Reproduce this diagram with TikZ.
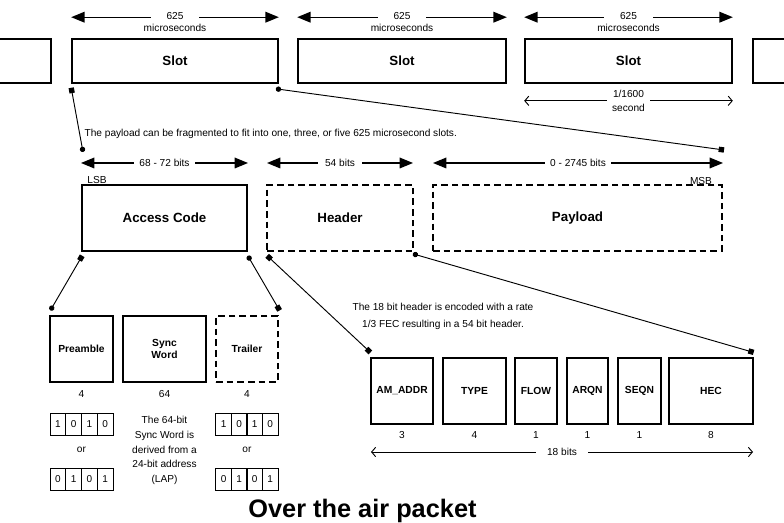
\documentclass[tikz,border=0pt]{standalone}
\usepackage{fontspec}
\setmainfont{Liberation Sans}
\usetikzlibrary{arrows.meta,calc}
\newcommand\rbox[7]{\node[#6, minimum width={(#4-#2)*0.75pt}, minimum height={(#5-#3)*0.75pt}] (#1) at ({(#2+#4)/2},{(#3+#5)/2}) {#7};}
\begin{document}
\begin{tikzpicture}[x=0.75pt,y=-0.75pt,
 box/.style={draw, line width=1.2pt, inner sep=0pt, font=\bfseries\fontsize{10}{12}\selectfont},
 dbox/.style={box, dash pattern=on 5pt off 3pt},
 fbox/.style={draw, line width=0.9pt, inner sep=0pt, align=center, font=\bfseries\fontsize{7.7}{9.5}\selectfont},
 dfbox/.style={fbox, dash pattern=on 5pt off 3pt},
 cell/.style={draw, line width=0.7pt, inner sep=0pt, minimum width={15.75*0.75pt}, minimum height={22*0.75pt}, font=\fontsize{7.5}{9}\selectfont},
 small/.style={font=\fontsize{7.6}{9}\selectfont, inner sep=1pt},
 gap/.style={small, fill=white},
 dimbig/.style={line width=0.9pt, {Triangle[length=10pt,width=8pt]}-{Triangle[length=10pt,width=8pt]}},
 dimopen/.style={line width=0.7pt, {Straight Barb[length=3pt,width=7pt]}-{Straight Barb[length=3pt,width=7pt]}},
 link/.style={line width=0.7pt},
 sqci/.style={link, {Square[length=4pt,width=4pt]}-{Circle[length=4pt]}},
 cisq/.style={link, {Circle[length=4pt]}-{Square[length=4pt,width=4pt]}},
 sqsq/.style={link, {Square[length=4pt,width=4pt]}-{Square[length=4pt,width=4pt]}},
]
\useasboundingbox (0,0) rectangle (784,523);
\clip (0,0) rectangle (784,523);

% slots
\rbox{slotL}{-20}{39}{51}{83}{box}{}
\rbox{slotA}{72}{39}{278}{83}{box}{Slot}
\rbox{slotB}{298}{39}{506}{83}{box}{Slot}
\rbox{slotC}{525}{39}{732}{83}{box}{Slot}
\rbox{slotR}{753}{39}{830}{83}{box}{}

\foreach \s in {slotA,slotB,slotC}{
  \draw[dimbig] ($(\s.north west)+(0,-21)$) -- ($(\s.north east)+(0,-21)$);
  \node[gap, inner xsep=12pt] (\s-t) at ($(\s.north)+(0,-22)$) {625};
  \node[small] (\s-m) at ($(\s.north)+(0,-10)$) {microseconds};
}
\draw[dimopen] ($(slotC.south west)+(0,17)$) -- ($(slotC.south east)+(0,17)$);
\node[gap, align=center, inner xsep=4pt, inner ysep=0pt] (sec) at ($(slotC.south)+(0,17)$) {1/1600\\[1pt]second};

\node[small, anchor=west] (frag) at (83,134) {The payload can be fragmented to fit into one, three, or five 625 microsecond slots.};

% packet
\rbox{ac}{82}{185}{247}{251}{box}{Access Code}
\rbox{hd}{267}{185}{413}{251}{dbox}{Header}
\rbox{pl}{433}{185}{722}{251}{dbox}{Payload}
\node[small] (lsb) at (97,180) {LSB};
\node[small] (msb) at (701,181) {MSB};

\draw[dimbig] (81,163) -- (248,163);
\node[gap, inner xsep=4pt] (acb) at (164.5,163) {68 - 72 bits};
\draw[dimbig] (267,163) -- (413,163);
\node[gap, inner xsep=5pt] (hdb) at (340,163) {54 bits};
\draw[dimbig] (433,163) -- (723,163);
\node[gap, inner xsep=4pt] (plb) at (578,163) {0 - 2745 bits};

% access code parts
\rbox{pre}{50}{316}{113}{382}{fbox}{Preamble}
\rbox{sync}{123}{316}{206}{382}{fbox}{Sync\\Word}
\rbox{trl}{216}{316}{278}{382}{dfbox}{Trailer}
\node[small] (npre) at (81.5,394) {4};
\node[small] (nsync) at (164.5,394) {64};
\node[small] (ntrl) at (247,394) {4};

\foreach \b [count=\i] in {1,0,1,0} \node[cell] (pa\i) at ({50+(\i-0.5)*15.75},424.5) {\b};
\foreach \b [count=\i] in {0,1,0,1} \node[cell] (pb\i) at ({50+(\i-0.5)*15.75},479) {\b};
\foreach \b [count=\i] in {1,0,1,0} \node[cell] (ta\i) at ({216+(\i-0.5)*15.5},424.5) {\b};
\foreach \b [count=\i] in {0,1,0,1} \node[cell] (tb\i) at ({216+(\i-0.5)*15.5},479) {\b};
\node[small] (or1) at (81.5,450) {or};
\node[small] (or2) at (247,450) {or};
\node[small, align=center, font=\fontsize{7.6}{11}\selectfont] (syncnote) at (164.5,450.5) {The 64-bit\\Sync Word is\\derived from a\\24-bit address\\(LAP)};

% header fields
\node[small, align=center, font=\fontsize{7.6}{12.7}\selectfont] (hnote) at (443,316) {The 18 bit header is encoded with a rate\\1/3 FEC resulting in a 54 bit header.};
\rbox{f1}{371}{358}{433}{424}{fbox}{AM\_ADDR}
\rbox{f2}{443}{358}{506}{424}{fbox}{TYPE}
\rbox{f3}{515}{358}{557}{424}{fbox}{FLOW}
\rbox{f4}{567}{358}{608}{424}{fbox}{ARQN}
\rbox{f5}{618}{358}{661}{424}{fbox}{SEQN}
\rbox{f6}{669}{358}{753}{424}{fbox}{HEC}
\foreach \f/\n in {f1/3,f2/4,f3/1,f4/1,f5/1,f6/8}
  \node[small] (\f-n) at ($(\f.south)+(0,10)$) {\n};
\draw[dimopen] (371,452) -- (753,452);
\node[gap, inner xsep=8pt] (hb) at (562,452) {18 bits};

% links
\coordinate (a1) at ($(slotA.south west)+(0,4)$);
\coordinate (a2) at (83,152);
\draw[sqci] (a1) -- (a2);
\coordinate (b1) at ($(slotA.south east)+(-3,5)$);
\coordinate (b2) at (724,150);
\draw[cisq] (b1) -- (b2);
\coordinate (c1) at ($(ac.south west)+(1,4)$);
\coordinate (c2) at ($(pre.north west)+(1,-5)$);
\draw[sqci] (c1) -- (c2);
\coordinate (d1) at ($(ac.south east)+(0,4)$);
\coordinate (d2) at ($(trl.north east)+(1,-5)$);
\draw[cisq] (d1) -- (d2);
\coordinate (e1) at ($(hd.south west)+(1,4)$);
\coordinate (e2) at ($(f1.north west)+(0,-5)$);
\draw[sqsq] (e1) -- (e2);
\coordinate (g1) at ($(hd.south east)+(-1,2)$);
\coordinate (g2) at ($(f6.north east)+(0,-5)$);
\draw[cisq] (g1) -- (g2);

\node[font=\bfseries\fontsize{19}{22}\selectfont, inner sep=0pt, anchor=base] (title) at (362.5,517) {Over the air packet};
\end{tikzpicture}
\end{document}
